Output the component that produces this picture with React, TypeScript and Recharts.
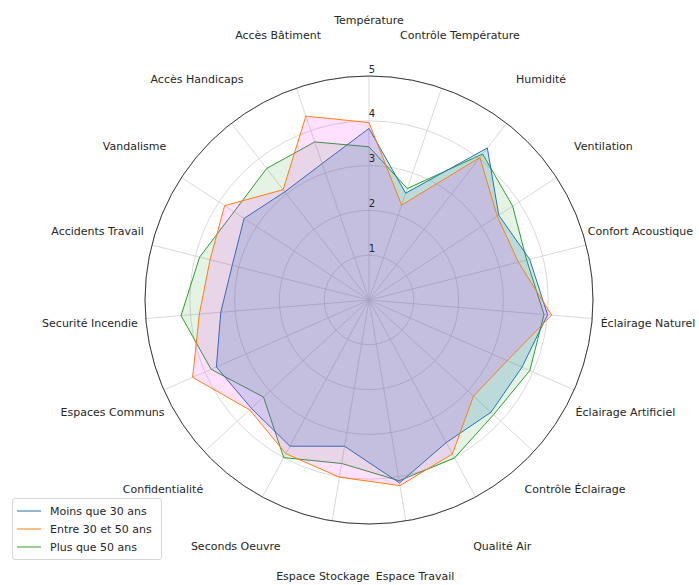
import { Legend, PolarAngleAxis, PolarGrid, PolarRadiusAxis, Radar, RadarChart } from 'recharts'

const subjects = [
	'Température', 'Contrôle Température', 'Humidité', 'Ventilation', 'Confort Acoustique',
	'Éclairage Naturel', 'Éclairage Artificiel', 'Contrôle Éclairage', 'Qualité Air', 'Espace Travail',
	'Espace Stockage', 'Seconds Oeuvre', 'Confidentialité', 'Espaces Communs', 'Securité Incendie',
	'Accidents Travail', 'Vandalisme', 'Accès Handicaps', 'Accès Bâtiment',
]

const moins30 = [3.83, 2.52, 4.3, 3.46, 3.7, 4.0, 3.73, 3.7, 3.62, 4.14, 3.31, 3.71, 3.57, 3.72, 3.32, 3.15, 3.33, 3.06, 3.22]
const entre30et50 = [3.96, 2.24, 4.03, 3.42, 3.44, 4.09, 3.37, 3.17, 3.91, 4.2, 4.01, 3.9, 3.62, 4.3, 3.8, 3.66, 3.85, 3.12, 4.34]
const plus50 = [3.42, 2.63, 4.13, 3.83, 3.63, 3.92, 3.92, 3.78, 4.01, 4.09, 3.7, 4.0, 3.2, 3.85, 4.21, 3.9, 3.6, 3.72, 3.73]

const rTicks = [0, 1, 2, 3, 4, 5]

const series = [
	{ key: 'moins30', name: 'Moins que 30 ans', color: '#1f77b4' },
	{ key: 'entre', name: 'Entre 30 et 50 ans', color: '#ff7f0e' },
	{ key: 'plus50', name: 'Plus que 50 ans', color: '#2ca02c' },
]

const data = subjects.map((s, i) => ({
	subject: s,
	moins30: moins30[i],
	entre: entre30et50[i],
	plus50: plus50[i],
}))

const font = 'DejaVu Sans, sans-serif'

const AngleTick = ({ x, y, payload }) => (
	<text x={x} y={y} textAnchor='middle' dominantBaseline='central' fontSize={11} fill='#262626' fontFamily={font}>
		{payload.value}
	</text>
)

const RadiusTick = ({ x, y, payload }) => {
	if (payload.value === 0) return null
	return (
		<text x={x + 3} y={y - 7} textAnchor='middle' dominantBaseline='central' fontSize={10} fill='#262626' fontFamily={font}>
			{payload.value}
		</text>
	)
}

const LegendBox = () => (
	<div style={{
		border: '1px solid #d6d6d6', borderRadius: 3, background: 'rgba(255,255,255,0.8)',
		padding: '3px 6px 3px 4px', fontFamily: font, fontSize: 11, color: '#262626', width: 138,
	}}>
		{series.map(s => (
			<div key={s.key} style={{ display: 'flex', alignItems: 'center', height: 18 }}>
				<svg width={24} height={4} style={{ marginRight: 9 }}>
					<line x1={0} y1={2} x2={24} y2={2} stroke={s.color} strokeWidth={1} />
				</svg>
				<span>{s.name}</span>
			</div>
		))}
	</div>
)

export default function App() {
	return (
		<div style={{ position: 'absolute', left: 0, top: 0, width: 699, height: 585, background: '#fff' }}>
			<RadarChart width={699} height={585} data={data} cx={369} cy={300} outerRadius={224}
									margin={{ top: 0, right: 0, bottom: 0, left: 0 }}>
				<PolarGrid gridType='circle' stroke='#cfcfcf' strokeWidth={0.8} />
				<PolarAngleAxis dataKey='subject' tick={<AngleTick />} tickLine={false} tickSize={56}
												axisLineType='circle' axisLine={{ stroke: '#3a3a3a', strokeWidth: 1 }} />
				<PolarRadiusAxis angle={90} domain={[0, 5]} ticks={rTicks} tickCount={6} axisLine={false} tick={<RadiusTick />} />
				<Radar name='Plus que 50 ans' dataKey='plus50' stroke='#2ca02c' strokeWidth={1} fill='#2ca02c'
							 fillOpacity={0.12} dot={false} isAnimationActive={false} />
				<Radar name='Moins que 30 ans' dataKey='moins30' stroke='#1f77b4' strokeWidth={1} fill='#1f77b4'
							 fillOpacity={0.2} dot={false} isAnimationActive={false} />
				<Radar name='Entre 30 et 50 ans' dataKey='entre' stroke='#ff7f0e' strokeWidth={1} fill='#ff00ff'
							 fillOpacity={0.12} dot={false} isAnimationActive={false} />
				<Legend verticalAlign='bottom' align='left' content={<LegendBox />}
								wrapperStyle={{ left: 12, bottom: 25, width: 'auto' }} />
			</RadarChart>
		</div>
	)
}
